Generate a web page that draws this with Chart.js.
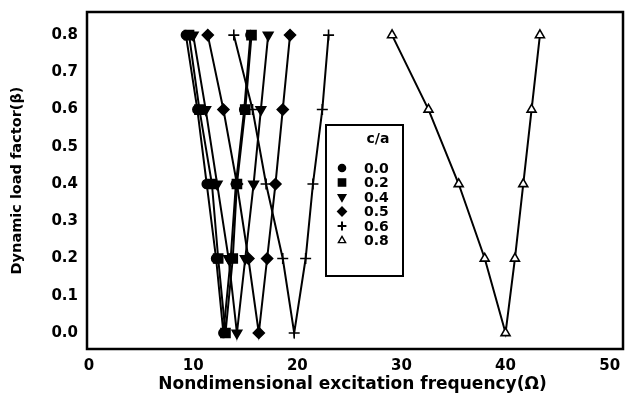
<!DOCTYPE html>
<html><head><meta charset="utf-8">
<script src="https://cdn.jsdelivr.net/npm/chart.js@4/dist/chart.umd.min.js"></script>
<style>html,body{margin:0;padding:0;background:#fff}#wrap{width:626px;height:402px;position:relative}</style>
</head><body><div id="wrap"><canvas id="c" width="626" height="402"></canvas></div>
<script>
// c/a values (legend)
const seriesLabels = ['0.0', '0.2', '0.4', '0.5', '0.6', '0.8'];
// dynamic load factor along each instability boundary (left branch down, right branch up)
const betaPath = [0.8, 0.6, 0.4, 0.2, 0.0, 0.2, 0.4, 0.6, 0.8];
// nondimensional excitation frequency for each c/a
const omega00 = [9.3, 10.4, 11.3, 12.2, 12.9, 13.6, 14.1, 14.9, 15.5];
const omega02 = [9.6, 10.6, 11.8, 12.4, 13.1, 13.8, 14.2, 15.0, 15.6];
const omega04 = [10.0, 11.2, 12.3, 13.4, 14.2, 15.0, 15.8, 16.5, 17.2];
const omega05 = [11.4, 12.9, 14.2, 15.3, 16.3, 17.1, 17.9, 18.6, 19.3];
const omega06 = [13.9, 15.7, 17.0, 18.6, 19.7, 20.8, 21.5, 22.4, 23.0];
const omega08 = [29.1, 32.6, 35.5, 38.0, 40.0, 40.9, 41.7, 42.5, 43.3];
const xTicks = [0, 10, 20, 30, 40, 50];
const yTicks = [0.0, 0.1, 0.2, 0.3, 0.4, 0.5, 0.6, 0.7, 0.8];

const omegaSets = [omega00, omega02, omega04, omega05, omega06, omega08];
const styles = [
  {pointStyle: 'circle', radius: 4.5, rotation: 0, fill: '#000'},
  {pointStyle: 'rect', radius: 6.4, rotation: 0, fill: '#000'},
  {pointStyle: 'triangle', radius: 5.5, rotation: 180, fill: '#000'},
  {pointStyle: 'rectRot', radius: 5.5, rotation: 0, fill: '#000'},
  {pointStyle: 'cross', radius: 5.5, rotation: 0, fill: '#000'},
  {pointStyle: 'triangle', radius: 5.2, rotation: 0, fill: '#fff'}
];

const FONT = '"DejaVu Sans", sans-serif';

const datasets = omegaSets.map((om, i) => ({
  label: seriesLabels[i],
  data: om.map((x, k) => ({x: x, y: betaPath[k]})),
  borderColor: '#000',
  borderWidth: 2,
  backgroundColor: styles[i].fill,
  pointStyle: styles[i].pointStyle,
  pointRadius: styles[i].radius,
  pointRotation: styles[i].rotation,
  pointBorderColor: '#000',
  pointBackgroundColor: styles[i].fill,
  pointBorderWidth: 1.6,
  tension: 0,
  fill: false
}));

const framePlugin = {
  id: 'frameLegend',
  afterDraw(chart) {
    const ctx = chart.ctx;
    const a = chart.chartArea;
    ctx.save();
    ctx.strokeStyle = '#000';
    ctx.lineWidth = 2.5;
    // frame extends a few px past the last value of the axis, as in the reference
    ctx.strokeRect(a.left, a.top, a.right - a.left + 5, a.bottom - a.top);
    // legend box
    const bx = 326, by = 125, bw = 77, bh = 151;
    ctx.lineWidth = 2;
    ctx.fillStyle = '#fff';
    ctx.fillRect(bx, by, bw, bh);
    ctx.strokeRect(bx, by, bw, bh);
    ctx.fillStyle = '#000';
    ctx.font = 'bold 14px ' + FONT;
    ctx.textAlign = 'center';
    ctx.textBaseline = 'middle';
    ctx.fillText('c/a', 378, 139);
    ctx.textAlign = 'left';
    for (let i = 0; i < seriesLabels.length; i++) {
      const y = 168 + i * 14.5;
      const s = styles[i];
      ctx.fillStyle = s.fill;
      ctx.strokeStyle = '#000';
      ctx.lineWidth = s.pointStyle === 'cross' ? 2 : 1.4;
      Chart.helpers.drawPoint(ctx, {pointStyle: s.pointStyle, radius: s.radius * 0.8, rotation: s.rotation, borderWidth: ctx.lineWidth}, 342, y);
      ctx.fillStyle = '#000';
      ctx.fillText(seriesLabels[i], 364, y + 1);
    }
    ctx.restore();
  }
};

new Chart(document.getElementById('c'), {
  type: 'line',
  data: {datasets: datasets},
  plugins: [framePlugin],
  options: {
    responsive: false,
    animation: false,
    devicePixelRatio: 1,
    layout: {padding: {top: 12, right: 4, left: 0, bottom: 0}},
    plugins: {legend: {display: false}, tooltip: {enabled: false}},
    scales: {
      x: {
        type: 'linear',
        min: -0.2,
        max: 50.8,
        afterBuildTicks: s => { s.ticks = xTicks.map(v => ({value: v})); },
        afterFit: s => { s.height = 53; s.paddingLeft = 0; s.paddingRight = 0; },
        grid: {display: false, drawTicks: false},
        border: {display: false},
        ticks: {color: '#000', font: {family: FONT, size: 15, weight: 'bold'}, padding: 8, maxRotation: 0},
        title: {display: true, text: 'Nondimensional excitation frequency(Ω)', color: '#000', font: {family: FONT, size: 17, weight: 'bold'}, padding: {top: 2, bottom: 7}}
      },
      y: {
        type: 'linear',
        min: -0.043,
        max: 0.862,
        afterBuildTicks: s => { s.ticks = yTicks.map(v => ({value: v})); },
        afterFit: s => { s.width = 87; s.paddingTop = 0; s.paddingBottom = 0; },
        grid: {display: false, drawTicks: false},
        border: {display: false},
        ticks: {color: '#000', font: {family: FONT, size: 15, weight: 'bold'}, padding: 9, callback: v => Number(v).toFixed(1)},
        title: {display: true, text: 'Dynamic load factor(β)', color: '#000', font: {family: FONT, size: 14.5, weight: 'bold'}, padding: {top: 9, bottom: 4}}
      }
    }
  }
});
</script>
</body></html>
